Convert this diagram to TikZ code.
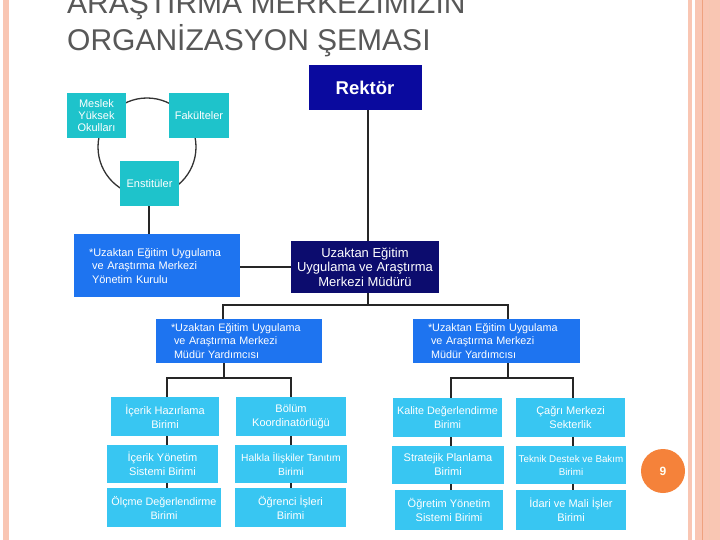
\documentclass[tikz,border=0pt]{standalone}
\usepackage{fontspec}
\setmainfont{Liberation Sans}
\definecolor{salmon}{HTML}{F9C6B3}
\definecolor{salmondark}{HTML}{EFA27F}
\definecolor{titlegray}{HTML}{585858}
\definecolor{tealbox}{HTML}{1EC3CB}
\definecolor{bluebox}{HTML}{1E74F0}
\definecolor{navyA}{HTML}{0A0A9E}
\definecolor{navyB}{HTML}{0C0C6E}
\definecolor{lightbox}{HTML}{38C6F2}
\definecolor{pageorange}{HTML}{F5823A}
\begin{document}
\begin{tikzpicture}[x=1pt,y=-1pt,
  box/.style={inner sep=0pt, align=center, text=white},
  tealnode/.style={box, fill=tealbox, minimum width=59pt, minimum height=45pt, font=\fontsize{11}{12}\selectfont},
  bluenode/.style={box, fill=bluebox, align=left, font=\fontsize{11}{13.5}\selectfont},
  unitnode/.style={box, fill=lightbox, font=\fontsize{11}{14}\selectfont},
  link/.style={draw=black!85, line width=1.8pt},
  ring/.style={draw=black!80, line width=1.3pt}]
\useasboundingbox (0,0) rectangle (720,540);
\clip (0,0) rectangle (720,540);
\fill[white] (0,0) rectangle (720,540);
% page decoration
\fill[salmon] (3,0) rectangle (9,540);
\fill[salmon] (688,0) rectangle (692,540);
\fill[salmon] (695,0) rectangle (720,540);
\draw[salmondark, line width=0.8pt] (702,0) -- (702,540);
\draw[salmondark!60, line width=0.6pt] (709,0) -- (709,540);
\node[circle, fill=pageorange, minimum size=44pt, inner sep=0pt, text=white!95!yellow, font=\bfseries\fontsize{12}{14}\selectfont] (pg) at (663,471) {9};
% title
\node[anchor=base west, inner sep=0pt, text=titlegray, font=\fontsize{30}{36}\selectfont] (t1) at (67,14) {ARAŞTIRMA MERKEZİMİZİN};
\node[anchor=base west, inner sep=0pt, text=titlegray, font=\fontsize{30}{36}\selectfont] (t2) at (67,51) {ORGANİZASYON ŞEMASI};
% ring behind the teal boxes
\draw[ring] (147,147) circle (49pt);
% top boxes
\node[box, fill=navyA, minimum width=113pt, minimum height=45pt, font=\bfseries\fontsize{18.5}{21}\selectfont] (rektor) at (365,87.5) {Rektör};
\node[tealnode] (myo) at (96.5,116) {Meslek\\Yüksek\\Okulları};
\node[tealnode, minimum width=60pt] (fak) at (199,116) {Fakülteler};
\node[tealnode] (ens) at (149.5,183.5) {Enstitüler};
\node[bluenode, minimum width=166pt, minimum height=63pt, text width=150pt] (kurul) at (157,265.5) {\hspace*{7pt}*Uzaktan Eğitim Uygulama\\\hspace*{10pt}ve Araştırma Merkezi\\\hspace*{10pt}Yönetim Kurulu};
\node[box, fill=navyB, minimum width=148pt, minimum height=52pt, font=\fontsize{13}{14.5}\selectfont] (mudur) at (365,267) {Uzaktan Eğitim\\Uygulama ve Araştırma\\Merkezi Müdürü};
\node[bluenode, minimum width=166pt, minimum height=44pt, text width=150pt, font=\fontsize{10.8}{13.3}\selectfont] (yardL) at (239,341) {\hspace*{7pt}*Uzaktan Eğitim Uygulama\\\hspace*{10pt}ve Araştırma Merkezi\\\hspace*{10pt}Müdür Yardımcısı};
\node[bluenode, minimum width=167pt, minimum height=44pt, text width=151pt, font=\fontsize{10.8}{13.3}\selectfont] (yardR) at (496.5,341) {\hspace*{7pt}*Uzaktan Eğitim Uygulama\\\hspace*{10pt}ve Araştırma Merkezi\\\hspace*{10pt}Müdür Yardımcısı};
% unit boxes, column 1
\node[unitnode, minimum width=108pt, minimum height=39pt] (a1) at (165,416.5) {İçerik Hazırlama\\Birimi};
\node[unitnode, minimum width=111pt, minimum height=38pt] (a2) at (162.5,464) {İçerik Yönetim\\Sistemi Birimi};
\node[unitnode, minimum width=114pt, minimum height=39pt, font=\fontsize{10.8}{14}\selectfont] (a3) at (164,507.5) {Ölçme Değerlendirme\\Birimi};
% column 2
\node[unitnode, minimum width=110pt, minimum height=39pt] (b1) at (291,416.5) {Bölüm\\Koordinatörlüğü};
\node[unitnode, minimum width=112pt, minimum height=38pt, font=\fontsize{10.3}{14}\selectfont] (b2) at (291,464) {Halkla İlişkiler Tanıtım\\Birimi};
\node[unitnode, minimum width=111pt, minimum height=39pt] (b3) at (290.5,507.5) {Öğrenci İşleri\\Birimi};
% column 3
\node[unitnode, minimum width=109pt, minimum height=39pt, font=\fontsize{10.8}{14}\selectfont] (c1) at (447.5,417.5) {Kalite Değerlendirme\\Birimi};
\node[unitnode, minimum width=112pt, minimum height=38pt] (c2) at (448,465) {Stratejik Planlama\\Birimi};
\node[unitnode, minimum width=108pt, minimum height=40pt] (c3) at (449,510) {Öğretim Yönetim\\Sistemi Birimi};
% column 4
\node[unitnode, minimum width=109pt, minimum height=39pt] (d1) at (570.5,417.5) {Çağrı Merkezi\\Sekterlik};
\node[unitnode, minimum width=110pt, minimum height=38pt, font=\fontsize{9.8}{13}\selectfont] (d2) at (571,465) {Teknik Destek ve Bakım\\Birimi};
\node[unitnode, minimum width=110pt, minimum height=40pt] (d3) at (571,510) {İdari ve Mali İşler\\Birimi};
% connectors
\draw[link] (rektor.south -| 368,0) -- (mudur.north -| 368,0);
\draw[link] (ens.south -| 149,0) -- (kurul.north -| 149,0);
\draw[link] (kurul.east |- 0,267) -- (mudur.west |- 0,267);
\draw[link] (mudur.south -| 368,0) -- (368,305) coordinate (m1);
\draw[link] (yardL.north -| 223,0) -- (223,305) -- (508,305) -- (yardR.north -| 508,0);
\draw[link] (yardL.south -| 224,0) -- (224,378) coordinate (l1);
\draw[link] (a1.north -| 167,0) -- (167,378) -- (291,378) -- (b1.north -| 291,0);
\draw[link] (yardR.south -| 508,0) -- (508,378) coordinate (r1);
\draw[link] (c1.north -| 451,0) -- (451,378) -- (573,378) -- (d1.north -| 573,0);
\draw[link] (a1.south -| 167,0) -- (a2.north -| 167,0);
\draw[link] (a2.south -| 167,0) -- (a3.north -| 167,0);
\draw[link] (b1.south -| 291,0) -- (b2.north -| 291,0);
\draw[link] (b2.south -| 291,0) -- (b3.north -| 291,0);
\draw[link] (c1.south -| 451,0) -- (c2.north -| 451,0);
\draw[link] (c2.south -| 451,0) -- (c3.north -| 451,0);
\draw[link] (d1.south -| 573,0) -- (d2.north -| 573,0);
\draw[link] (d2.south -| 573,0) -- (d3.north -| 573,0);
\end{tikzpicture}
\end{document}
